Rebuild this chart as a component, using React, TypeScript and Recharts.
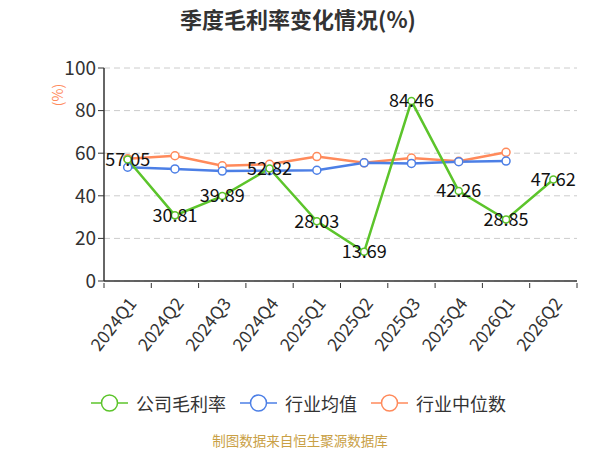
import { LineChart, Line, XAxis, YAxis, CartesianGrid, LabelList } from "recharts";

const quarters = ["2024Q1", "2024Q2", "2024Q3", "2024Q4", "2025Q1", "2025Q2", "2025Q3", "2025Q4", "2026Q1", "2026Q2"];
const companyMargin = [57.05, 30.81, 39.89, 52.82, 28.03, 13.69, 84.46, 42.26, 28.85, 47.62];
const industryAvg = [53.4, 52.6, 51.6, 51.8, 52.0, 55.5, 55.2, 56.0, 56.3, null];
const industryMedian = [57.4, 58.8, 54.1, 54.8, 58.4, 55.5, 57.7, 56.2, 60.4, null];
const yTicks = [0, 20, 40, 60, 80, 100];

const GREEN = "#5cc42b";
const BLUE = "#4c7fe6";
const ORANGE = "#ff8a5b";
const FONT = "'Noto Sans CJK SC', 'Noto Sans', sans-serif";

// plot box
const PLOT_LEFT = 104;
const PLOT_RIGHT = 577;
const HALF_BAND = (PLOT_RIGHT - PLOT_LEFT) / quarters.length / 2;

const data = quarters.map((q, i) => ({
  q,
  company: companyMargin[i],
  avg: industryAvg[i],
  median: industryMedian[i],
}));

const legendItems = [
  { name: "公司毛利率", color: GREEN },
  { name: "行业均值", color: BLUE },
  { name: "行业中位数", color: ORANGE },
];

function QuarterTick(props: any) {
  const { x, y, payload, index } = props;
  const tx = x + 5;
  const ty = y + 9;
  const last = index === quarters.length - 1;
  return (
    <g>
      <line x1={x - HALF_BAND} y1={y - 8} x2={x - HALF_BAND} y2={y - 3} stroke="#333" />
      {last && <line x1={x + HALF_BAND} y1={y - 8} x2={x + HALF_BAND} y2={y - 3} stroke="#333" />}
      <text x={tx} y={ty} dy="0.35em" textAnchor="end" fontSize={17.5} fill="#333" fontFamily={FONT} transform={`rotate(-52, ${tx}, ${ty})`}>
        {payload.value}
      </text>
    </g>
  );
}

export default function App() {
  return (
    <div style={{ position: "absolute", left: 0, top: 0, width: 600, height: 450, background: "#fff", fontFamily: FONT }}>
      <div style={{ position: "absolute", top: 2, left: 0, width: 596, textAlign: "center", fontSize: 22, fontWeight: "bold", color: "#333" }}>
        季度毛利率变化情况(%)
      </div>
      <LineChart width={600} height={450} data={data} margin={{ top: 68, right: 600 - PLOT_RIGHT, left: 0, bottom: 59 }}>
        <CartesianGrid vertical={false} stroke="#ccc" strokeDasharray="6 4" />
        <XAxis
          dataKey="q"
          interval={0}
          padding={{ left: HALF_BAND, right: HALF_BAND }}
          tickLine={false}
          axisLine={{ stroke: "#333", strokeWidth: 1.5 }}
          tick={<QuarterTick />}
          tickSize={8}
          height={110}
        />
        <YAxis
          domain={[0, 100]}
          ticks={yTicks}
          width={PLOT_LEFT}
          axisLine={{ stroke: "#333", strokeWidth: 1.5 }}
          tickLine={{ stroke: "#333" }}
          tick={{ fontSize: 19, fill: "#333", fontFamily: FONT }}
        />
        <Line type="linear" dataKey="median" stroke={ORANGE} strokeWidth={2.5} dot={{ r: 4, fill: "#fff", stroke: ORANGE, strokeWidth: 1.5 }} isAnimationActive={false} />
        <Line type="linear" dataKey="avg" stroke={BLUE} strokeWidth={2.5} dot={{ r: 4, fill: "#fff", stroke: BLUE, strokeWidth: 1.5 }} isAnimationActive={false} />
        <Line type="linear" dataKey="company" stroke={GREEN} strokeWidth={2.5} dot={{ r: 3.5, fill: "#fff", stroke: GREEN, strokeWidth: 1.5 }} isAnimationActive={false}>
          <LabelList dataKey="company" position="center" fontSize={18} fill="#111" fontFamily={FONT} />
        </Line>
      </LineChart>
      <div style={{ position: "absolute", left: 45, top: 83, width: 24, height: 24, color: ORANGE, fontSize: 14, transform: "rotate(-90deg)", textAlign: "center", lineHeight: "24px" }}>
        (%)
      </div>
      <div style={{ position: "absolute", top: 391, left: 91, display: "flex", alignItems: "center", height: 24 }}>
        {legendItems.map((it) => (
          <div key={it.name} style={{ display: "flex", alignItems: "center", marginRight: 14 }}>
            <svg width={37} height={20}>
              <line x1={0} y1={10} x2={37} y2={10} stroke={it.color} strokeWidth={1.5} />
              <circle cx={18.5} cy={10} r={8} fill="#fff" stroke={it.color} strokeWidth={1.5} />
            </svg>
            <span style={{ marginLeft: 8, fontSize: 18, color: "#333" }}>{it.name}</span>
          </div>
        ))}
      </div>
      <div style={{ position: "absolute", top: 430, left: 0, width: 600, textAlign: "center", fontSize: 13.5, color: "#c9a045" }}>
        制图数据来自恒生聚源数据库
      </div>
    </div>
  );
}
